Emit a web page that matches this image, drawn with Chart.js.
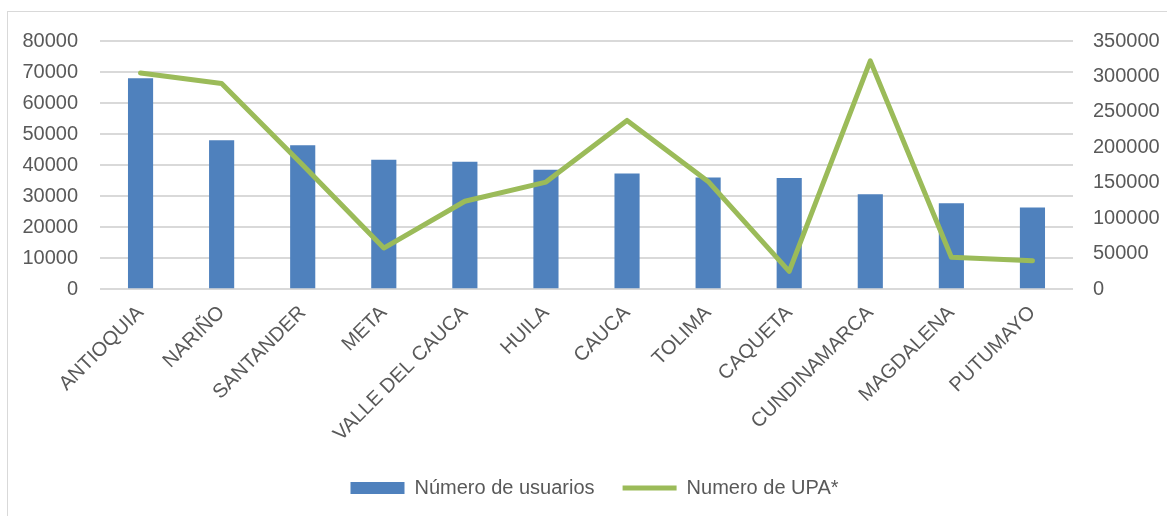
<!DOCTYPE html>
<html>
<head>
<meta charset="utf-8">
<script src="https://cdn.jsdelivr.net/npm/chart.js@4.4.1/dist/chart.umd.min.js"></script>
<style>
  html, body { margin: 0; padding: 0; background: #fff; overflow: hidden; }
  #frame { position: absolute; left: 7px; top: 11px; width: 1200px; height: 560px; border: 1px solid #d9d9d9; }
  #wrap { position: absolute; left: 0; top: 0; width: 1167px; height: 516px; }
</style>
</head>
<body>
<div id="frame"></div>
<div id="wrap"><canvas id="chart"></canvas></div>
<script>
const departamentos = ['ANTIOQUIA', 'NARIÑO', 'SANTANDER', 'META', 'VALLE DEL CAUCA', 'HUILA', 'CAUCA', 'TOLIMA', 'CAQUETA', 'CUNDINAMARCA', 'MAGDALENA', 'PUTUMAYO'];
const usuarios = [68000, 48000, 46400, 41700, 41100, 38500, 37300, 36000, 35800, 30600, 27700, 26300];
const upa = [305000, 290000, 175000, 58000, 124000, 151000, 238000, 152000, 25000, 322000, 45000, 40000];
const ticksUsuarios = [0, 10000, 20000, 30000, 40000, 50000, 60000, 70000, 80000];
const ticksUpa = [0, 50000, 100000, 150000, 200000, 250000, 300000, 350000];

const textColor = '#595959';
const fontFamily = '"Liberation Sans", Arial, sans-serif';

const ctx = document.getElementById('chart').getContext('2d');
new Chart(ctx, {
    type: 'bar',
    data: {
        labels: departamentos,
        datasets: [
            {
                type: 'bar',
                label: 'Número de usuarios',
                data: usuarios,
                backgroundColor: '#4f81bd',
                borderWidth: 0,
                categoryPercentage: 1,
                barPercentage: 0.31,
                yAxisID: 'y',
                pointStyle: 'rect',
                order: 1
            },
            {
                type: 'line',
                label: 'Numero de UPA*',
                data: upa,
                borderColor: '#9bbb59',
                backgroundColor: '#9bbb59',
                borderWidth: 5,
                tension: 0,
                pointRadius: 0,
                borderJoinStyle: 'round',
                borderCapStyle: 'round',
                pointStyle: 'line',
                yAxisID: 'y1',
                order: 0
            }
        ]
    },
    options: {
        responsive: true,
        maintainAspectRatio: false,
        animation: false,
        layout: { padding: { left: 22, right: 0, top: 41, bottom: 8 } },
        plugins: {
            tooltip: { enabled: false },
            legend: {
                position: 'bottom',
                labels: {
                    color: textColor,
                    font: { family: fontFamily, size: 20 },
                    usePointStyle: true,
                    boxHeight: 12,
                    pointStyleWidth: 54,
                    padding: 28,
                    sort: (a, b) => a.datasetIndex - b.datasetIndex
                }
            }
        },
        scales: {
            x: {
                grid: { display: false },
                border: { display: false },
                afterFit: axis => { axis.paddingLeft = 0; axis.paddingRight = 0; },
                ticks: {
                    color: textColor,
                    font: { family: fontFamily, size: 20 },
                    minRotation: 45,
                    maxRotation: 45,
                    autoSkip: false,
                    padding: 4
                }
            },
            y: {
                position: 'left',
                min: 0,
                max: 80000,
                afterBuildTicks: axis => { axis.ticks = ticksUsuarios.map(v => ({ value: v })); },
                afterFit: axis => { axis.width = 78; },
                grid: { color: '#d9d9d9', lineWidth: 2, drawTicks: false },
                border: { display: false },
                ticks: {
                    color: textColor,
                    font: { family: fontFamily, size: 20 },
                    padding: 22,
                    callback: v => String(v)
                }
            },
            y1: {
                position: 'right',
                min: 0,
                max: 350000,
                afterBuildTicks: axis => { axis.ticks = ticksUpa.map(v => ({ value: v })); },
                afterFit: axis => { axis.width = 94; },
                grid: { drawOnChartArea: false, drawTicks: false },
                border: { display: false },
                ticks: {
                    color: textColor,
                    font: { family: fontFamily, size: 20 },
                    padding: 20,
                    callback: v => String(v)
                }
            }
        }
    }
});
</script>
</body>
</html>
